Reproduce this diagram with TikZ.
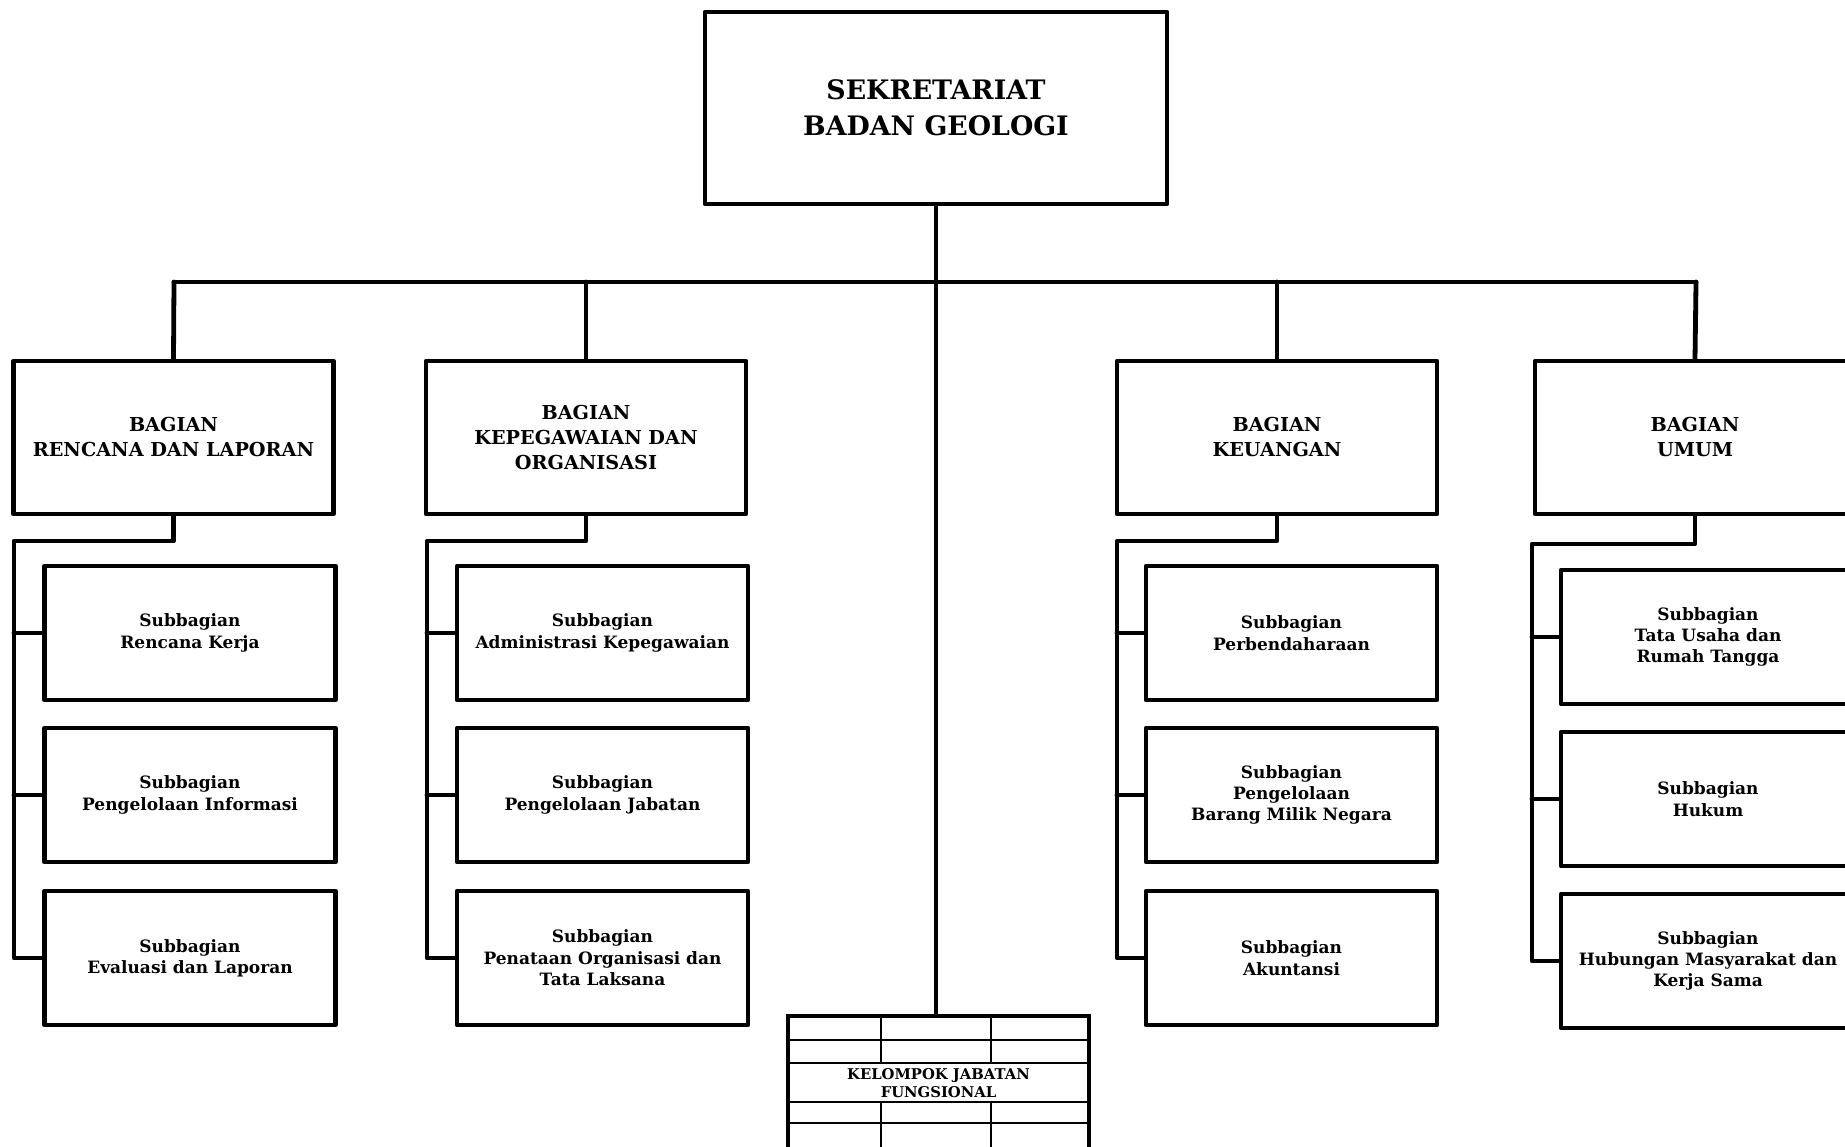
\documentclass[tikz,border=0pt]{standalone}
\usepackage{fontspec}
\setmainfont{DejaVu Serif}
\begin{document}
\begin{tikzpicture}[x=0.5pt,y=-0.5pt,
  every node/.style={font=\bfseries},
  conn/.style={line width=2.4pt, line join=round, line cap=round},
  box/.style={draw, line width=2.4pt, line join=round, align=center, inner sep=0pt},
  topbox/.style={box, minimum width=231pt, minimum height=96pt, font=\bfseries\fontsize{13.4}{18}\selectfont},
  bagbox/.style={box, minimum width=160pt, minimum height=76.5pt, font=\bfseries\fontsize{9.6}{12.5}\selectfont},
  subbox/.style={box, minimum width=145.5pt, minimum height=67pt, font=\bfseries\fontsize{8.5}{10.7}\selectfont},
  cellline/.style={line width=1.3pt}
]
\useasboundingbox (0,0) rectangle (1845,1146);
\clip (0,0) rectangle (1845,1146);

% top
\node[topbox] (top) at (936,108) {SEKRETARIAT\\BADAN GEOLOGI};

% bagian
\node[bagbox] (b1) at (173.5,437.5) {BAGIAN\\RENCANA DAN LAPORAN};
\node[bagbox] (b2) at (586,437.5) {BAGIAN\\KEPEGAWAIAN DAN\\ORGANISASI};
\node[bagbox] (b4) at (1277,437.5) {BAGIAN\\KEUANGAN};
\node[bagbox] (b5) at (1695,437.5) {BAGIAN\\UMUM};

% subbagian
\node[subbox] (s11) at (190,633) {Subbagian\\Rencana Kerja};
\node[subbox] (s12) at (190,795) {Subbagian\\Pengelolaan Informasi};
\node[subbox] (s13) at (190,958) {Subbagian\\Evaluasi dan Laporan};

\node[subbox] (s21) at (602.5,633) {Subbagian\\Administrasi Kepegawaian};
\node[subbox] (s22) at (602.5,795) {Subbagian\\Pengelolaan Jabatan};
\node[subbox] (s23) at (602.5,958) {Subbagian\\Penataan Organisasi dan\\Tata Laksana};

\node[subbox] (s41) at (1291.5,633) {Subbagian\\Perbendaharaan};
\node[subbox] (s42) at (1291.5,795) {Subbagian\\Pengelolaan\\Barang Milik Negara};
\node[subbox] (s43) at (1291.5,958) {Subbagian\\Akuntansi};

\node[subbox, minimum width=147pt] (s51) at (1708,637) {Subbagian\\Tata Usaha dan\\Rumah Tangga};
\node[subbox, minimum width=147pt] (s52) at (1708,799) {Subbagian\\Hukum};
\node[subbox, minimum width=147pt] (s53) at (1708,961) {Subbagian\\Hubungan Masyarakat dan\\Kerja Sama};

% kelompok jabatan fungsional table
\node[draw, line width=2.4pt, minimum width=150.5pt, minimum height=68pt, inner sep=0pt] (kjf) at (938.5,1084) {};
\node[font=\bfseries\fontsize{7.4}{9}\selectfont, align=center] (kjftext) at (938.5,1083) {KELOMPOK JABATAN\\FUNGSIONAL};
\draw[cellline] (kjf.west |- 0,1040) -- (kjf.east |- 0,1040);
\draw[cellline] (kjf.west |- 0,1063) -- (kjf.east |- 0,1063);
\draw[cellline] (kjf.west |- 0,1102) -- (kjf.east |- 0,1102);
\draw[cellline] (kjf.west |- 0,1123) -- (kjf.east |- 0,1123);
\draw[cellline] (881,1016) -- (881,1063) (881,1102) -- (881,1150);
\draw[cellline] (991,1016) -- (991,1063) (991,1102) -- (991,1150);

% bus
\coordinate (bus) at (936,282);
\coordinate (busL) at (174,282);
\coordinate (busR) at (1696,282);
\draw[conn] (top.south) -- (bus);
\draw[conn] (busL) -- (busR);
\draw[conn] (busL) -- (b1.north);
\draw[conn] (b2.north |- bus) -- (b2.north);
\draw[conn] (b4.north |- bus) -- (b4.north);
\draw[conn] (busR) -- (b5.north);
\draw[conn] (bus) -- (kjf.north -| bus);

% branches
\coordinate (k1) at (14,541);
\draw[conn] (b1.south) -- (b1.south |- k1) -- (k1) -- (k1 |- s13.west) -- (s13.west);
\draw[conn] (k1 |- s11.west) -- (s11.west);
\draw[conn] (k1 |- s12.west) -- (s12.west);

\coordinate (k2) at (427,541);
\draw[conn] (b2.south) -- (b2.south |- k2) -- (k2) -- (k2 |- s23.west) -- (s23.west);
\draw[conn] (k2 |- s21.west) -- (s21.west);
\draw[conn] (k2 |- s22.west) -- (s22.west);

\coordinate (k4) at (1117,541);
\draw[conn] (b4.south) -- (b4.south |- k4) -- (k4) -- (k4 |- s43.west) -- (s43.west);
\draw[conn] (k4 |- s41.west) -- (s41.west);
\draw[conn] (k4 |- s42.west) -- (s42.west);

\coordinate (k5) at (1532,544);
\draw[conn] (b5.south) -- (b5.south |- k5) -- (k5) -- (k5 |- s53.west) -- (s53.west);
\draw[conn] (k5 |- s51.west) -- (s51.west);
\draw[conn] (k5 |- s52.west) -- (s52.west);
\end{tikzpicture}
\end{document}
